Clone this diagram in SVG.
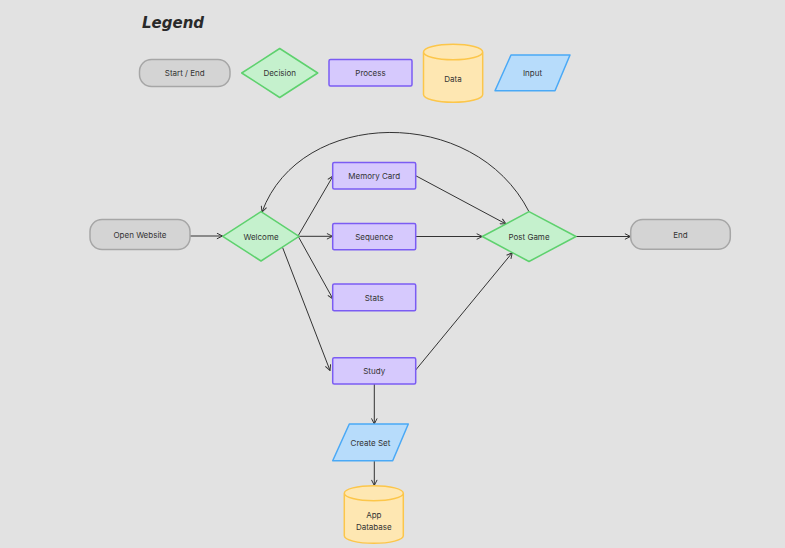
<svg xmlns="http://www.w3.org/2000/svg" width="785" height="548" viewBox="0 0 785 548">
<defs>
<marker id="arr" viewBox="0 0 10 10" refX="9" refY="5" markerWidth="7" markerHeight="7" orient="auto" markerUnits="userSpaceOnUse">
<path d="M1,1 L9,5 L1,9" fill="none" stroke="#333" stroke-width="1.4"/>
</marker>
<style>
.t{font-family:Inter,"Liberation Sans",sans-serif;font-size:8px;fill:#333;text-anchor:middle;dominant-baseline:central}
.se{fill:#d4d4d4;stroke:#a6a6a6;stroke-width:1.5}
.dc{fill:#c5f1cd;stroke:#5ed16e;stroke-width:1.5;stroke-linejoin:round}
.pr{fill:#d6c9fd;stroke:#7b5cf3;stroke-width:1.5}
.da{fill:#fee7b2;stroke:#fcc64a;stroke-width:1.5}
.in{fill:#b7dcfb;stroke:#4aa9f6;stroke-width:1.5;stroke-linejoin:round}
.c{fill:none;stroke:#333;stroke-width:1;marker-end:url(#arr)}
</style>
</defs>
<rect width="785" height="548" fill="#e2e2e2"/>
<text x="142" y="27.5" font-family="'DejaVu Sans',sans-serif" font-size="15" font-style="italic" font-weight="bold" fill="#2a2a2a">Legend</text>
<g id="legend-start-end"><rect class="se" x="139.5" y="59.5" width="90.5" height="27" rx="12"/><text class="t" x="184.7" y="73">Start / End</text></g>
<g id="legend-decision"><polygon class="dc" points="279.7,48.5 317.7,73 279.7,97.5 241.7,73"/><text class="t" x="279.7" y="73">Decision</text></g>
<g id="legend-process"><rect class="pr" x="329" y="59.5" width="83" height="26.5" rx="1.5"/><text class="t" x="370.5" y="73">Process</text></g>
<g id="legend-data"><path class="da" d="M423.5,52 L423.5,94.5 A29.6,7.8 0 0 0 482.7,94.5 L482.7,52 A29.6,7.8 0 0 0 423.5,52 A29.6,7.8 0 0 0 482.7,52"/><text class="t" x="453" y="79">Data</text></g>
<g id="legend-input"><polygon class="in" points="511,55 570,55 555,90.7 495,90.7"/><text class="t" x="532.5" y="73">Input</text></g>

<g id="connectors">
<line class="c" x1="190" y1="236" x2="222.5" y2="236"/>
<line class="c" x1="299" y1="236.3" x2="332.5" y2="236.3"/>
<line class="c" x1="298" y1="236" x2="333" y2="176"/>
<line class="c" x1="298" y1="236" x2="333" y2="299"/>
<line class="c" x1="282" y1="246" x2="330" y2="370.5"/>
<line class="c" x1="415.7" y1="175.7" x2="506" y2="224"/>
<line class="c" x1="415.7" y1="236.5" x2="482.3" y2="236.5"/>
<line class="c" x1="415.7" y1="370" x2="512.3" y2="252.7"/>
<line class="c" x1="576" y1="236.5" x2="630.5" y2="236.5"/>
<path class="c" d="M529,211.7 C474,104 300,108 262,212"/>
<line class="c" x1="374.3" y1="384" x2="374.3" y2="424"/>
<line class="c" x1="374.3" y1="460.7" x2="374.3" y2="485.5"/>
</g>

<g id="open-website"><rect class="se" x="90" y="219.5" width="100" height="30" rx="12"/><text class="t" x="140" y="234.5">Open Website</text></g>
<g id="welcome"><polygon class="dc" points="261,211.7 299,236.3 261,261 222.7,236.3"/><text class="t" x="261" y="236.5">Welcome</text></g>
<g id="memory-card"><rect class="pr" x="332.7" y="162.5" width="83" height="26.5" rx="1.5"/><text class="t" x="374.2" y="175.7">Memory Card</text></g>
<g id="sequence"><rect class="pr" x="332.7" y="223.5" width="83" height="26.2" rx="1.5"/><text class="t" x="374.2" y="236.6">Sequence</text></g>
<g id="stats"><rect class="pr" x="332.7" y="284" width="83" height="26.7" rx="1.5"/><text class="t" x="374.2" y="297.5">Stats</text></g>
<g id="study"><rect class="pr" x="332.7" y="357.7" width="83" height="26.3" rx="1.5"/><text class="t" x="374.2" y="370.8">Study</text></g>
<g id="post-game"><polygon class="dc" points="529,211.7 576,236.5 529,261.5 482.3,236.5"/><text class="t" x="529" y="236.7">Post Game</text></g>
<g id="end"><rect class="se" x="630.7" y="219.5" width="99.6" height="29.8" rx="12"/><text class="t" x="680.5" y="234.5">End</text></g>
<g id="create-set"><polygon class="in" points="349.3,424 408.3,424 392.7,460.7 332.7,460.7"/><text class="t" x="370.5" y="442.5">Create Set</text></g>
<g id="app-database"><path class="da" d="M344.3,493.2 L344.3,535.8 A29.5,7.5 0 0 0 403.3,535.8 L403.3,493.2 A29.5,7.5 0 0 0 344.3,493.2 A29.5,7.5 0 0 0 403.3,493.2"/><text class="t" x="373.8" y="515">App</text><text class="t" x="373.8" y="526.5">Database</text></g>
</svg>
